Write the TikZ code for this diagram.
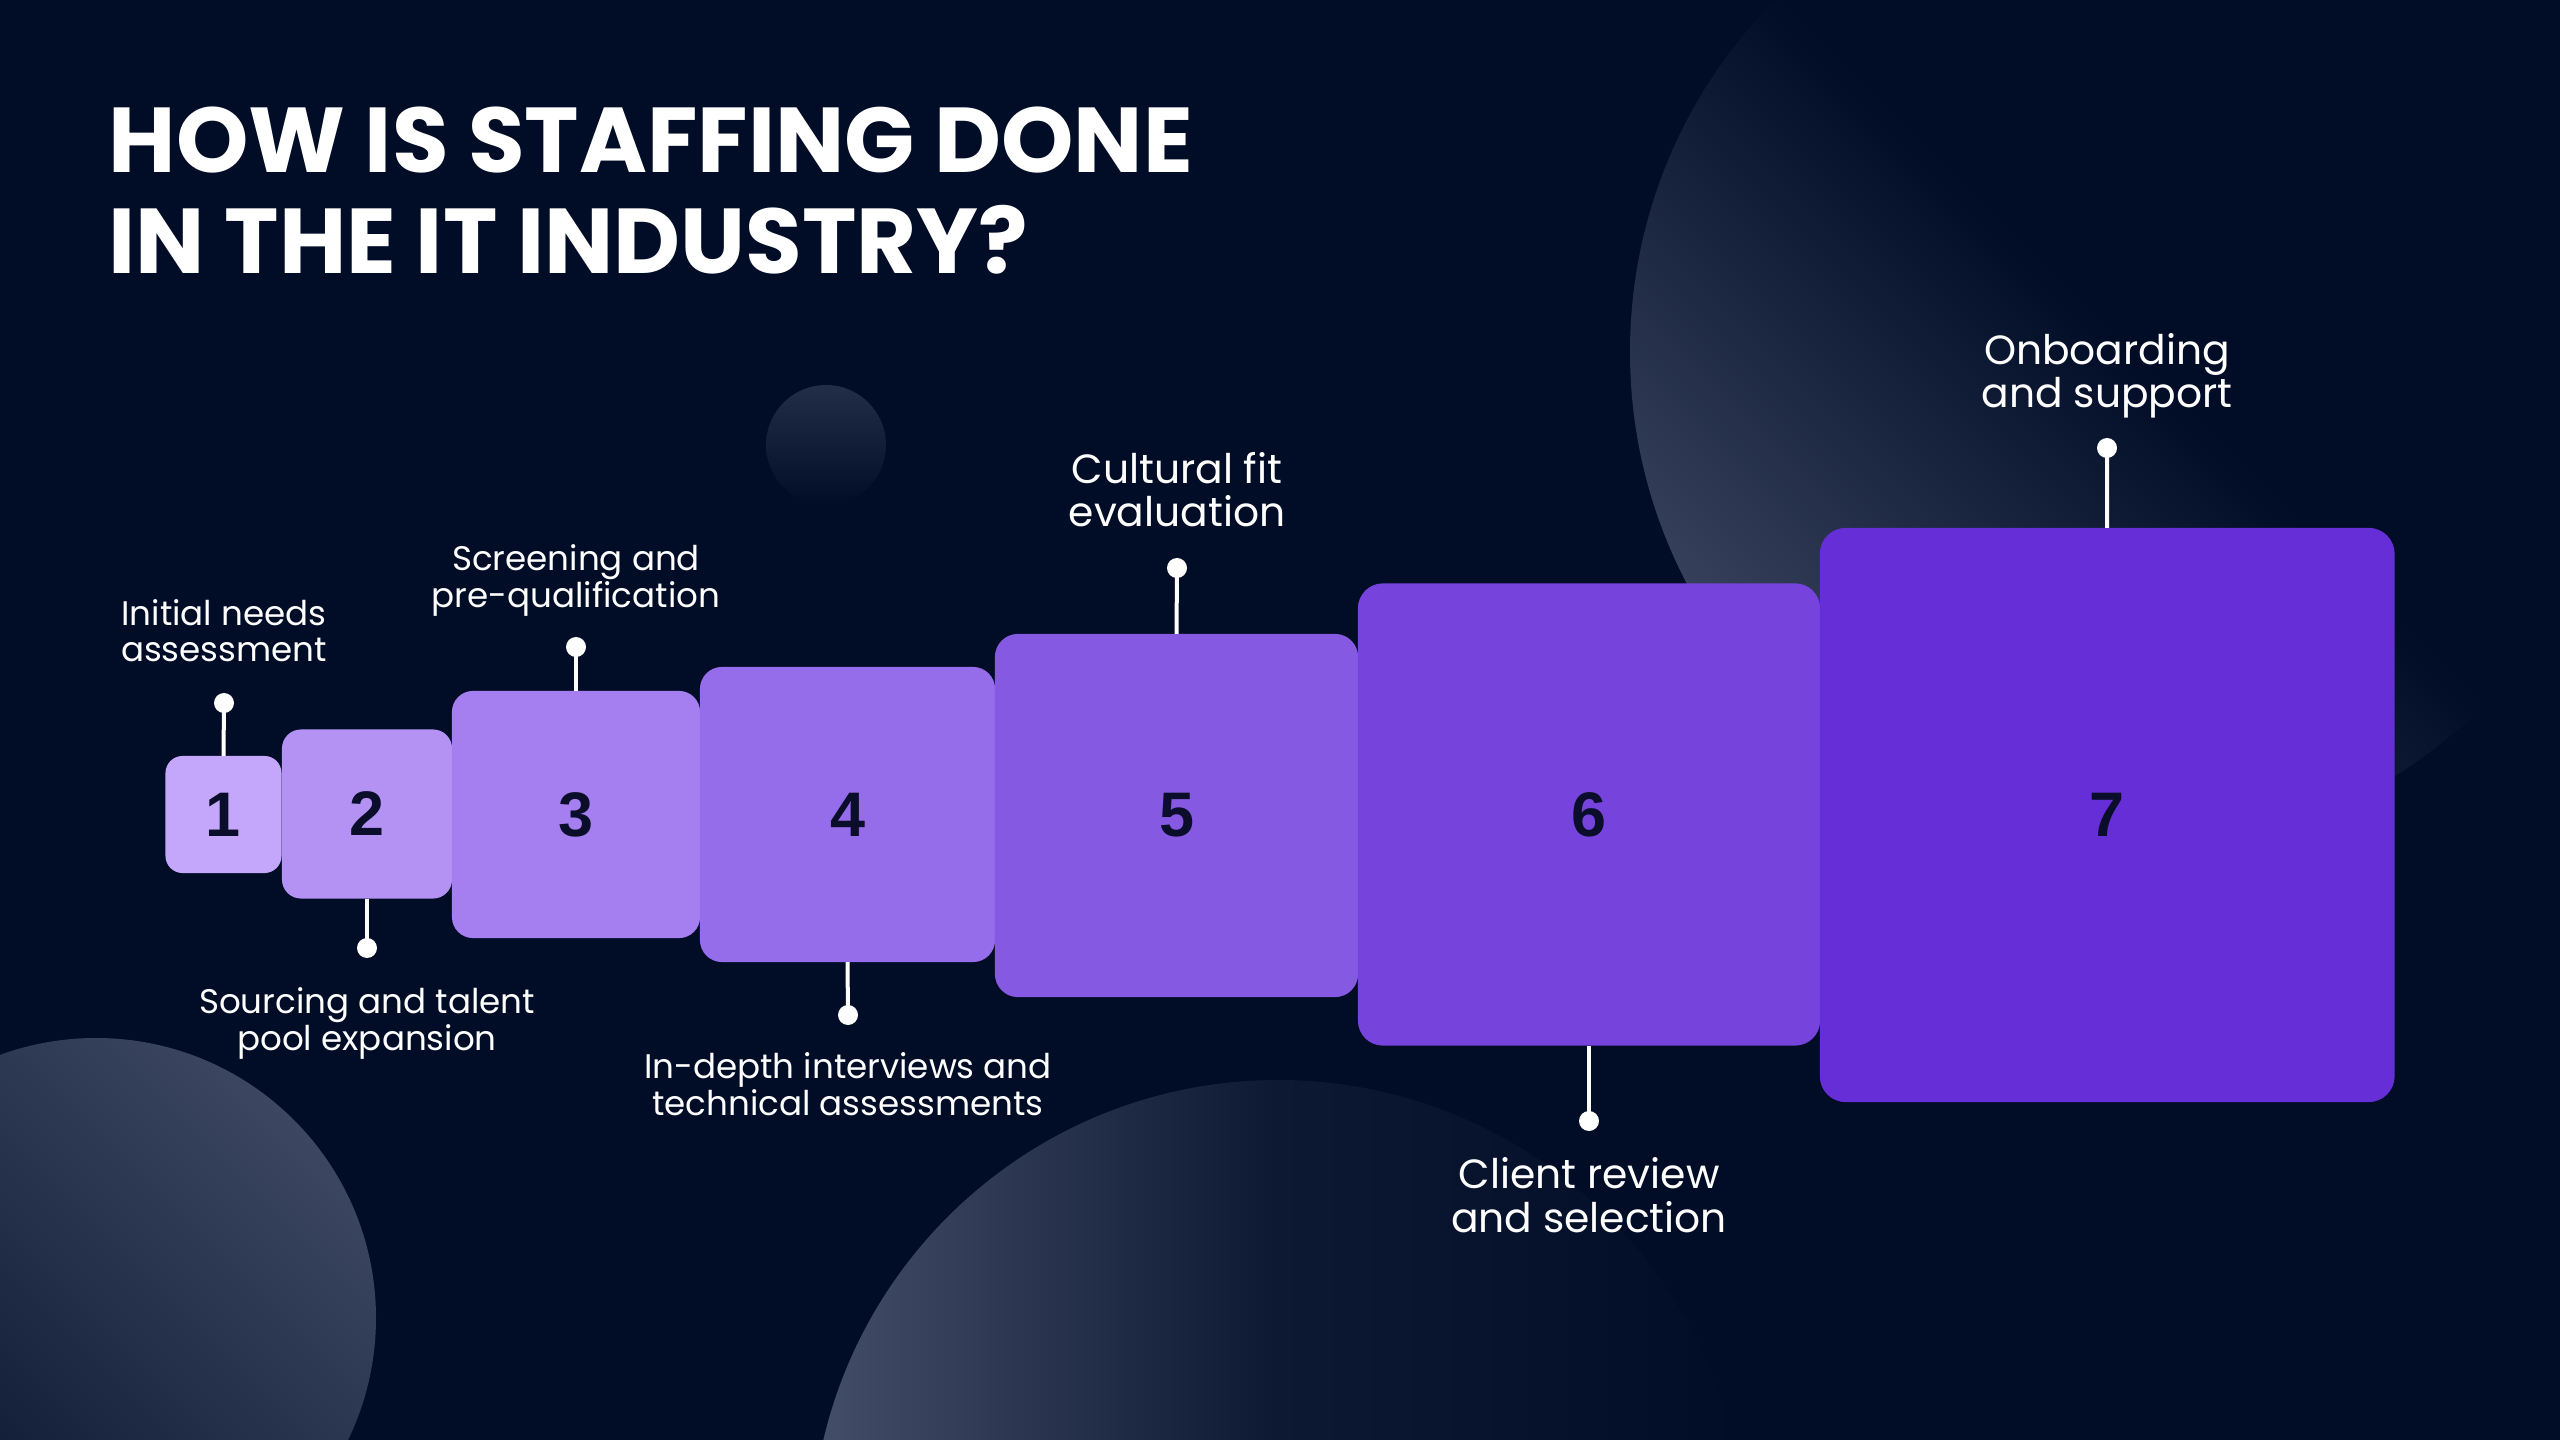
\documentclass[tikz,border=0pt]{standalone}
\usepackage{fontspec}
\setmainfont{Poppins}
\newfontfamily\numfont{Liberation Sans}
\definecolor{bg}{RGB}{1,12,38}
\definecolor{cA}{RGB}{196,166,250}
\definecolor{cB}{RGB}{180,146,244}
\definecolor{cC}{RGB}{165,127,239}
\definecolor{cD}{RGB}{149,108,233}
\definecolor{cE}{RGB}{134,89,227}
\definecolor{cF}{RGB}{119,67,221}
\definecolor{cG}{RGB}{102,46,214}
\definecolor{numc}{RGB}{10,14,42}
\definecolor{glowA}{RGB}{56,66,92}
\definecolor{glowB}{RGB}{34,45,72}
\definecolor{glowC}{RGB}{60,70,96}
\definecolor{darkC}{RGB}{8,20,46}
\definecolor{glowD}{RGB}{68,78,104}
\begin{document}
\begin{tikzpicture}[x=0.01cm,y=-0.01cm,
  stepbox/.style={inner sep=0pt, outer sep=0pt, text=numc,
    font=\numfont\bfseries\fontsize{17.9}{20}\selectfont},
  lab/.style={text=white, align=center, inner sep=0pt, font=\fontsize{9.7}{10.5}\selectfont},
  labbig/.style={text=white, align=center, inner sep=0pt, font=\fontsize{11.6}{12.5}\selectfont},
  pinline/.style={draw=white, line width=0.04cm},
  pindot/.style={fill=white}
]
\fill[bg] (0,0) rectangle (2560,1440);
\useasboundingbox (0,0) rectangle (2560,1440);
% background circles
\shade[top color=bg, bottom color=glowA, middle color=bg, shading angle=-45] (2130,352) circle (500);
\shade[top color=glowB, bottom color=bg] (826,445) circle (60);
\shade[top color=glowC, bottom color=darkC, shading angle=-45] (96,1318) circle (280);
\shade[left color=glowD, right color=bg, middle color=bg!82!glowD] (1278,1547) circle (467);
% title
\node[anchor=base west, inner sep=0pt, text=white, align=left,
  font=\bfseries\fontsize{26.2}{29}\selectfont] (title) at (108,274)
  {HOW IS STAFFING DONE\\IN THE IT INDUSTRY?};
% boxes
\node[stepbox, fill=cA, minimum width=1.16cm, minimum height=1.17cm, rounded corners=0.17cm] (b1) at (223.5,814.5) {1};
\node[stepbox, fill=cB, minimum width=1.70cm, minimum height=1.69cm, rounded corners=0.19cm] (b2) at (367,814) {2};
\node[stepbox, fill=cC, minimum width=2.48cm, minimum height=2.47cm, rounded corners=0.21cm] (b3) at (576,814.5) {3};
\node[stepbox, fill=cD, minimum width=2.95cm, minimum height=2.95cm, rounded corners=0.22cm] (b4) at (847.5,814.5) {4};
\node[stepbox, fill=cE, minimum width=3.63cm, minimum height=3.63cm, rounded corners=0.23cm] (b5) at (1176.5,815.5) {5};
\node[stepbox, fill=cF, minimum width=4.62cm, minimum height=4.62cm, rounded corners=0.25cm] (b6) at (1589,814.5) {6};
\node[stepbox, fill=cG, minimum width=5.745cm, minimum height=5.74cm, rounded corners=0.26cm] (b7) at (2107.2,815) {7};
% pins
\coordinate (d1) at (224,703);
\coordinate (d2) at (367,948);
\coordinate (d3) at (576,647);
\coordinate (d4) at (848,1015);
\coordinate (d5) at (1177,568);
\coordinate (d6) at (1589,1121);
\coordinate (d7) at (2107,448);
\draw[pinline] (d1) -- (b1.north);
\draw[pinline] (b2.south) -- (d2);
\draw[pinline] (d3) -- (b3.north);
\draw[pinline] (b4.south) -- (d4);
\draw[pinline] (d5) -- (b5.north);
\draw[pinline] (b6.south) -- (d6);
\draw[pinline] (d7) -- (b7.north);
\foreach \d in {d1,d2,d3,d4,d5,d6,d7} \fill[pindot] (\d) circle (10);
% labels (anchor = baseline of the last line)
\node[lab, anchor=base] (t1) at (224,662) {Initial needs\\assessment};
\node[lab, anchor=base] (t2) at (367,1050) {Sourcing and talent\\pool expansion};
\node[lab, anchor=base] (t3) at (576,607.5) {Screening and\\pre-qualification};
\node[lab, anchor=base] (t4) at (848,1115) {In-depth interviews and\\technical assessments};
\node[labbig, anchor=base] (t5) at (1177,527) {Cultural fit\\evaluation};
\node[labbig, anchor=base] (t6) at (1589,1232.5) {Client review\\and selection};
\node[labbig, anchor=base] (t7) at (2107,408) {Onboarding\\and support};
\end{tikzpicture}
\end{document}
